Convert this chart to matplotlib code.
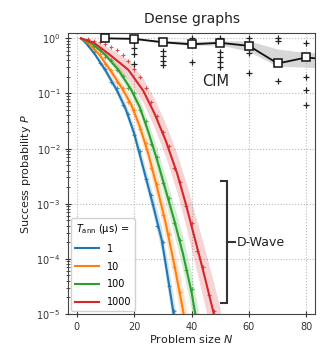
import numpy as np
import matplotlib
matplotlib.use("Agg")
import matplotlib.pyplot as plt

# ---------------- data ----------------
# CIM (median success probability, dense graphs)
cim_N = [10, 20, 30, 40, 50, 60, 70, 80, 90]
cim_P = [1.0, 0.98, 0.85, 0.78, 0.83, 0.73, 0.35, 0.45, 0.40]
cim_lo = [1.0, 0.94, 0.82, 0.74, 0.76, 0.58, 0.31, 0.30, 0.28]
cim_hi = [1.0, 1.0, 0.92, 0.88, 0.90, 0.90, 0.64, 0.55, 0.55]
# CIM individual instances
inst_N = [20, 20, 20, 20, 30, 30, 30, 30, 30, 40, 40,
          50, 50, 50, 50, 50, 60, 60, 60, 70, 70, 70, 80, 80, 80, 80]
inst_P = [0.85, 0.68, 0.52, 0.34, 0.88, 0.58, 0.47, 0.39, 0.33, 1.0, 0.37,
          1.0, 0.56, 0.45, 0.37, 0.30, 1.0, 0.54, 0.24, 1.0, 0.88, 0.17,
          0.82, 0.20, 0.115, 0.062]

# D-Wave fits (log10 P) for annealing times 1, 10, 100, 1000 us
t_ann = ["1", "10", "100", "1000"]
blue_N = [1.5, 3.5, 6.5, 10, 14, 17, 20, 23.2, 26.5, 29.6, 31.5, 33.6, 35]
blue_fit = [0, -0.10, -0.30, -0.58, -0.94, -1.27, -1.72, -2.35, -3.0, -3.65, -4.25, -4.94, -5.45]
blue_hw = [0.01, 0.02, 0.04, 0.06, 0.08, 0.1, 0.12, 0.15, 0.18, 0.22, 0.25, 0.28, 0.3]
orange_N = [1.5, 4, 8, 12, 16, 19, 22, 25, 28, 31, 34, 37, 39]
orange_fit = [0, -0.08, -0.30, -0.60, -0.92, -1.20, -1.60, -2.10, -2.70, -3.35, -4.10, -4.92, -5.5]
orange_hw = [0.01, 0.02, 0.05, 0.08, 0.1, 0.13, 0.16, 0.2, 0.24, 0.28, 0.32, 0.36, 0.4]
green_N = [1.5, 5, 10, 14.5, 19, 22, 25, 28, 31, 34, 37, 40, 42, 44]
green_fit = [0, -0.08, -0.30, -0.57, -0.93, -1.25, -1.70, -2.20, -2.75, -3.30, -3.90, -4.60, -5.20, -5.8]
green_hw = [0.01, 0.02, 0.05, 0.08, 0.1, 0.13, 0.16, 0.2, 0.23, 0.26, 0.3, 0.33, 0.36, 0.4]
red_N = [1.5, 6, 11.6, 18, 23.2, 27, 31, 35, 38, 41, 44, 47.5, 50]
red_fit = [0, -0.08, -0.30, -0.57, -0.95, -1.35, -1.85, -2.45, -3.0, -3.6, -4.2, -4.94, -5.5]
red_hw = [0.01, 0.05, 0.12, 0.18, 0.22, 0.26, 0.3, 0.35, 0.4, 0.45, 0.5, 0.55, 0.6]

# D-Wave measured points (log10 P)
blue_pN = [4, 6, 8, 10, 12, 14, 16, 18, 20, 22, 24, 26, 28, 30, 32, 34]
blue_pv = [-0.12, -0.25, -0.45, -0.55, -0.8, -0.9, -1.2, -1.38, -1.75, -2.05, -2.55, -2.85, -3.4, -3.7, -4.5, -4.95]
orange_pN = [4, 6, 8, 10, 12, 14, 16, 18, 20, 22, 24, 26, 28, 30, 32, 34, 36, 38]
orange_pv = [-0.07, -0.2, -0.28, -0.47, -0.58, -0.8, -0.9, -1.15, -1.3, -1.65, -1.9, -2.35, -2.65, -3.2, -3.55, -4.15, -4.6, -5.1]
green_pN = [4, 6, 8, 10, 12, 14, 16, 18, 20, 22, 24, 26, 28, 30, 32, 34, 36, 38, 40, 42]
green_pv = [-0.04, -0.14, -0.2, -0.33, -0.4, -0.57, -0.68, -0.9, -1.0, -1.3, -1.5, -1.92, -2.15, -2.62, -2.9, -3.35, -3.65, -4.2, -4.55, -5.1]
red_pN = [4, 6, 8, 10, 12, 14, 16, 18, 20, 22, 24, 26, 28, 30, 32, 34, 36, 38, 40, 42, 44, 46, 48]
red_pv = [-0.02, -0.04, -0.07, -0.1, -0.15, -0.21, -0.3, -0.42, -0.55, -0.7, -0.9, -1.15, -1.4, -1.7, -1.95, -2.35, -2.6, -3.05, -3.35, -3.85, -4.15, -4.65, -4.95]

colors = ["#1f77b4", "#ff7f0e", "#2ca02c", "#d62728"]

# ---------------- figure ----------------
fig = plt.figure(figsize=(3.24, 3.47), dpi=100)
ax = fig.add_axes([0.2099, 0.0951, 0.7623, 0.8098])

ax.set_yscale("log")
ax.set_xlim(-3, 83)
ax.set_ylim(1e-5, 1.25)

ax.grid(True, which="major", linestyle=":", color="#b8b8b8", linewidth=0.8)
ax.set_axisbelow(True)

series = [
    (blue_N, blue_fit, blue_hw, blue_pN, blue_pv),
    (orange_N, orange_fit, orange_hw, orange_pN, orange_pv),
    (green_N, green_fit, green_hw, green_pN, green_pv),
    (red_N, red_fit, red_hw, red_pN, red_pv),
]
handles = []
for (N, fit, hw, pN, pv), c, lab in zip(series, colors, t_ann):
    N = np.array(N); fit = np.array(fit); hw = np.array(hw)
    ax.fill_between(N, 10 ** (fit - hw), np.minimum(10 ** (fit + hw), 1.0),
                    color=c, alpha=0.2, linewidth=0)
    h, = ax.plot(N, 10 ** fit, color=c, lw=1.5, label=lab)
    ax.plot(pN, 10 ** np.array(pv), linestyle="none", marker="+", ms=3,
            mew=0.8, color=c, alpha=0.8)
    handles.append(h)

# CIM
ax.fill_between(cim_N, cim_lo, cim_hi, color="#b0b0b0", alpha=0.5, linewidth=0)
ax.plot(inst_N, inst_P, linestyle="none", marker="+", ms=4.5, mew=0.9, color="#222222")
ax.plot(cim_N, cim_P, color="#111111", lw=1.3, marker="s", ms=5.5,
        mfc="white", mec="#111111", mew=1.1, zorder=5)

ax.text(48.5, 0.162, "CIM", fontsize=10.5, ha="center", va="center", color="#222222")

# D-Wave bracket
bx, by_top, by_bot, by_mid = 52.4, 2.6e-3, 1.6e-5, 2.0e-4
ax.plot([50.2, bx, bx, 50.2], [by_top, by_top, by_bot, by_bot], color="#333333", lw=1.5,
        solid_joinstyle="miter")
ax.plot([bx, 55.0], [by_mid, by_mid], color="#333333", lw=1.5)
ax.text(55.6, by_mid, "D-Wave", fontsize=9, ha="left", va="center", color="#222222")

leg = ax.legend(handles=handles, title=r"$T_{\rm ann}$ (μs) =", loc="lower left",
                fontsize=7, title_fontsize=7, handlelength=2.5, labelspacing=0.8,
                borderaxespad=0.3, framealpha=0.9, fancybox=True, edgecolor="#cccccc")

ax.set_xticks([0, 20, 40, 60, 80])
ax.tick_params(axis="both", which="major", labelsize=7, direction="inout", length=4,
               colors="#333333")
ax.tick_params(axis="y", which="minor", direction="inout", length=2.5, colors="#333333")
for s in ax.spines.values():
    s.set_color("#444444")

ax.set_xlabel(r"Problem size $N$", fontsize=8, labelpad=1, color="#222222")
ax.set_ylabel(r"Success probability $P$", fontsize=8, labelpad=2, color="#222222")
ax.set_title("Dense graphs", fontsize=10, pad=7, color="#222222")

fig.savefig("out.png", dpi=100)
